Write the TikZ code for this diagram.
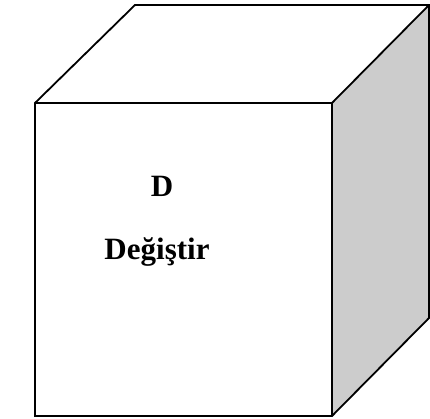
\documentclass[tikz,border=0pt]{standalone}
\usepackage{fontspec}
\setmainfont{Liberation Serif}
\begin{document}
\begin{tikzpicture}[x=1pt,y=1pt]
\useasboundingbox (0,0) rectangle (430,419);
\coordinate (fa) at (35,316);
\coordinate (fb) at (332,316);
\coordinate (fc) at (332,3);
\coordinate (fd) at (35,3);
\coordinate (ta) at (135,414);
\coordinate (tb) at (429,414);
\coordinate (rc) at (429,101);
\fill[black!20] (fb) -- (tb) -- (rc) -- (fc) -- cycle;
\draw[line width=1.8pt, line join=miter] (fd) -- (fa) -- (ta) -- (tb) -- (rc) -- (fc) -- cycle;
\draw[line width=1.8pt] (fa) -- (fb) -- (tb);
\draw[line width=1.8pt] (fb) -- (fc);
\node[font=\fontsize{31}{36}\selectfont\bfseries, anchor=base] (d) at (162,222) {D};
\node[font=\fontsize{31}{36}\selectfont\bfseries, anchor=base] (dl) at (157,159) {Değiştir};
\end{tikzpicture}
\end{document}
